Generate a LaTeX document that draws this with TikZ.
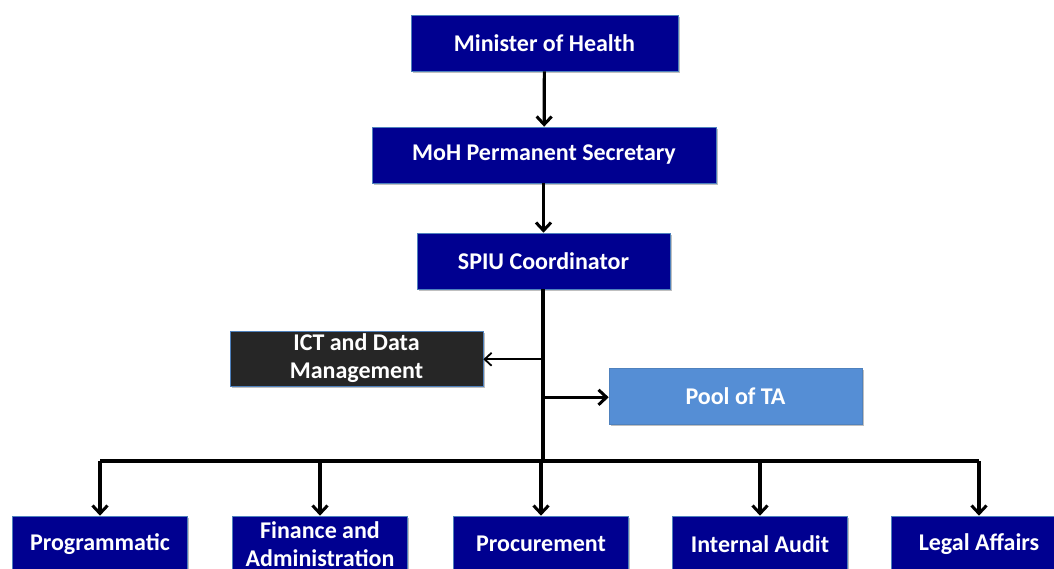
\documentclass[tikz,border=0pt]{standalone}
\usepackage{fontspec}
\setmainfont{Carlito}
\usetikzlibrary{arrows.meta,shadows}
\definecolor{navy}{RGB}{0,0,144}
\definecolor{ictgray}{RGB}{38,38,38}
\definecolor{poolblue}{RGB}{85,142,213}
\definecolor{edgeblue}{RGB}{79,129,189}
\tikzset{
  box/.style={draw=edgeblue, line width=0.6pt, fill=navy, text=white, font=\bfseries\fontsize{24}{28}\selectfont,
    align=center, inner sep=0pt, minimum height=56pt,
    drop shadow={shadow xshift=1.5pt, shadow yshift=-2pt, opacity=0.25, fill=black}},
  conn/.style={line width=3.2pt, -{Straight Barb[length=8pt,width=15pt,line width=3pt]}},
  bus/.style={line width=3.2pt}
}
\begin{document}
\begin{tikzpicture}[x=1pt,y=-1pt]
\useasboundingbox (0,0) rectangle (1054,569);
\node[box, minimum width=267pt] (min) at (544.5,43) {Minister of Health};
\node[box, minimum width=344pt] (ps) at (544,155) {MoH Permanent Secretary};
\node[box, minimum width=253pt] (spiu) at (543.5,261) {SPIU Coordinator};
\node[box, minimum width=253pt, minimum height=55pt, fill=ictgray] (ict) at (356.5,358.5) {ICT and Data\\Management};
\node[box, minimum width=253pt, fill=poolblue] (pool) at (735.5,396) {Pool of TA};
\node[box, minimum width=175pt] (prog) at (100,544) {Programmatic};
\node[box, minimum width=175pt] (fin) at (320,544) {Finance and\\Administration};
\node[box, minimum width=175pt] (proc) at (541,544) {Procurement};
\node[box, minimum width=175pt] (audit) at (760,544) {Internal Audit};
\node[box, minimum width=175pt] (legal) at (979,544) {Legal Affairs};
\coordinate (bus) at (543,461);
\draw[conn] (min) -- (ps);
\draw[conn] ([xshift=-0.5pt]ps.south) -- ([xshift=-0.5pt]ps.south |- spiu.north);
\draw[bus] (spiu.south -| bus) -- (bus);
\draw[line width=2pt, -{Straight Barb[length=7pt,width=13pt,line width=1.8pt]}] (spiu.south -| bus) ++(0,70) coordinate (ictj) -- (ictj -| ict.east);
\draw[conn] (spiu.south -| bus) ++(0,108) coordinate (poolj) -- (poolj -| pool.west);
\draw[bus] (bus -| prog) -- (bus -| legal);
\draw[conn] (bus -| prog) -- (prog.north);
\draw[conn] (bus -| fin) -- (fin.north);
\draw[conn] (bus -| proc) -- (proc.north);
\draw[conn] (bus -| audit) -- (audit.north);
\draw[conn] (bus -| legal) -- (legal.north);
\end{tikzpicture}
\end{document}
